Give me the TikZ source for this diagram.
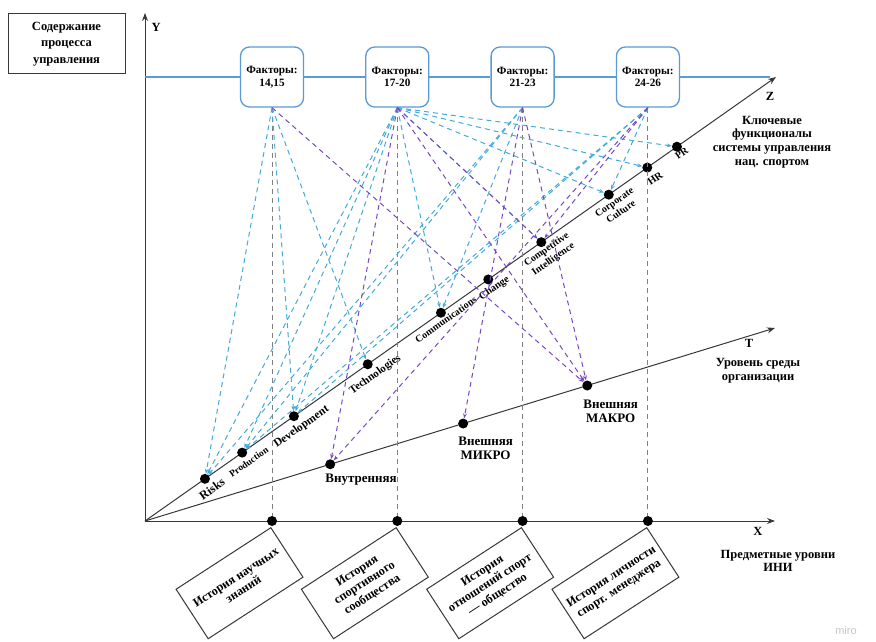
\documentclass[tikz,border=0pt]{standalone}
\usepackage{fontspec}
\setmainfont{Liberation Serif}
\newfontfamily\mirofont{Liberation Sans}
\usetikzlibrary{positioning,calc,arrows.meta}

\definecolor{factorblue}{RGB}{91,155,213}
\definecolor{linkblue}{RGB}{66,170,218}
\definecolor{linkviolet}{RGB}{120,72,196}
\definecolor{axisgray}{RGB}{55,55,55}

\tikzset{
  dot/.style={circle, fill=black, inner sep=0pt, minimum size=10pt},
  factor/.style={draw=factorblue, line width=1.3pt, rounded corners=9pt, fill=white,
    minimum width=63pt, minimum height=60pt, align=center,
    font=\bfseries\fontsize{11.2}{12.5}\selectfont},
  axis/.style={draw=axisgray, line width=1pt, -{Stealth[length=8pt,width=6pt]}},
  zlbl/.style={rotate=35.3, anchor=north, inner sep=1pt, outer sep=7pt, align=center,
    font=\bfseries\fontsize{10.5}{12}\selectfont},
  histbox/.style={draw=axisgray, line width=1pt, rotate=33, anchor=north east,
    minimum width=113pt, minimum height=59pt, align=center,
    font=\bfseries\fontsize{12.3}{14}\selectfont},
  caption/.style={align=center, font=\bfseries\fontsize{12.5}{13.6}\selectfont},
  envlbl/.style={align=center, font=\bfseries\fontsize{13}{14}\selectfont},
}

\begin{document}
\begin{tikzpicture}[x=1pt, y=-1pt]
\useasboundingbox (0,0) rectangle (876,642);

    % Axes %
    \coordinate (O) at (145,521);
    \coordinate (Yend) at (145,13);
    \coordinate (Xend) at (775,521);
    \coordinate (Zend) at (776,77);
    \coordinate (Tend) at (775,328);
    \coordinate (hstart) at (145,77);
    \coordinate (hend) at (770,77);

    \draw[axis] (O) -- (Yend);
    \draw[axis] (O) -- (Xend);
    \draw[axis] (O) -- (Zend);
    \draw[axis] (O) -- (Tend);

    \node[caption, anchor=west] (ylbl) at (148,27) {Y};
    \node[caption] (zlbl) at (770,96) {Z};
    \node[caption] (tlbl) at (749,343) {T};
    \node[caption] (xlbl) at (758,531) {X};

    \node[draw=axisgray, line width=1pt, minimum width=117pt, minimum height=60pt,
      align=center, font=\bfseries\fontsize{12.5}{16.5}\selectfont] (content) at (66.5,44)
      {Содержание\\процесса\\управления};

    % Factor boxes on the blue line %
    \node[factor] (f1) at (272,77) {Факторы:\\14,15};
    \node[factor, right=61pt of f1] (f2) {Факторы:\\17-20};
    \node[factor, right=61pt of f2] (f3) {Факторы:\\21-23};
    \node[factor, right=61pt of f3] (f4) {Факторы:\\24-26};
    \draw[factorblue, line width=1.3pt] (hstart) -- (f1) -- (f2) -- (f3) -- (f4) -- (hend);

    % Z axis: key functions %
    \node[dot] (risks) at ($(O)!0.095!(Zend)$) {};
    \node[dot] (prod) at ($(O)!0.154!(Zend)$) {};
    \node[dot] (dev) at ($(O)!0.236!(Zend)$) {};
    \node[dot] (tech) at ($(O)!0.353!(Zend)$) {};
    \node[dot] (comm) at ($(O)!0.469!(Zend)$) {};
    \node[dot] (change) at ($(O)!0.544!(Zend)$) {};
    \node[dot] (compet) at ($(O)!0.628!(Zend)$) {};
    \node[dot] (corp) at ($(O)!0.735!(Zend)$) {};
    \node[dot] (hr) at ($(O)!0.796!(Zend)$) {};
    \node[dot] (pr) at ($(O)!0.843!(Zend)$) {};

    \node[zlbl, font=\bfseries\fontsize{12}{12}\selectfont] at (risks) {Risks};
    \node[zlbl, font=\bfseries\fontsize{9.5}{10}\selectfont] at (prod) {Production};
    \node[zlbl, font=\bfseries\fontsize{11.5}{12}\selectfont] at (dev) {Development};
    \node[zlbl, font=\bfseries\fontsize{11}{12}\selectfont] at (tech) {Technologies};
    \node[zlbl, outer sep=4pt, font=\bfseries\fontsize{10}{12}\selectfont] at (comm) {Communications};
    \node[zlbl, outer sep=5pt] at (change) {Change};
    \node[zlbl, outer sep=4pt, font=\bfseries\fontsize{10}{11.5}\selectfont] at (compet) {Competitive\\Intelligence};
    \node[zlbl, outer sep=5pt, font=\bfseries\fontsize{10}{11.5}\selectfont] at (corp) {Corporate\\Culture};
    \node[zlbl, outer sep=9pt, font=\bfseries\fontsize{10.5}{12}\selectfont] at (hr) {HR};
    \node[zlbl, outer sep=4pt, font=\bfseries\fontsize{10}{12}\selectfont] at (pr) {PR};

    \node[caption] (zcap) at (772,142) {Ключевые\\функционалы\\системы управления\\нац. спортом};

    % T axis: environment levels %
    \node[dot] (inner) at ($(O)!0.294!(Tend)$) {};
    \node[dot] (micro) at ($(O)!0.505!(Tend)$) {};
    \node[dot] (macro) at ($(O)!0.702!(Tend)$) {};

    \node[envlbl, below right=3pt and -12pt of inner] {Внутренняя};
    \node[envlbl, below right=6pt and -12pt of micro] {Внешняя\\МИКРО};
    \node[envlbl, below right=7pt and -11pt of macro] {Внешняя\\МАКРО};

    \node[caption] (tcap) at (758,371) {Уровень среды\\организации};

    % X axis: subject levels %
    \node[dot] (x1) at (f1 |- O) {};
    \node[dot] (x2) at (f2 |- O) {};
    \node[dot] (x3) at (f3 |- O) {};
    \node[dot] (x4) at (f4 |- O) {};

    \node[histbox] (h1) at ($(x1)+(-1,6)$) {История научных\\знаний};
    \node[histbox] (h2) at ($(x2)+(-1,6)$) {История\\спортивного\\сообщества};
    \node[histbox] (h3) at ($(x3)+(-1,6)$) {История\\отношений спорт\\— общество};
    \node[histbox] (h4) at ($(x4)+(-1,6)$) {История личности\\спорт. менеджера};

    \node[caption] (xcap) at (778,561) {Предметные уровни\\ИНИ};

    \node[text=gray!45, font=\mirofont\fontsize{11}{12}\selectfont] (wm) at (846,631) {miro};

    % Vertical links factor -> subject level %
    \begin{scope}[every edge/.style={draw=gray, line width=0.9pt, dash pattern=on 5pt off 4pt}]
        \path (f1) edge (x1);
        \path (f2) edge (x2);
        \path (f3) edge (x3);
        \path (f4) edge (x4);
    \end{scope}

    % Factors -> key functions %
    \begin{scope}[every edge/.style={draw=linkblue, line width=1pt, dash pattern=on 5pt off 4pt}]
        \path [-{Stealth[length=5pt]}] (f1.south) edge (risks);
        \path [-{Stealth[length=5pt]}] (f1.south) edge (dev);
        \path [-{Stealth[length=5pt]}] (f1.south) edge (tech);

        \path [-{Stealth[length=5pt]}] (f2.south) edge (risks);
        \path [-{Stealth[length=5pt]}] (f2.south) edge (prod);
        \path [-{Stealth[length=5pt]}] (f2.south) edge (dev);
        \path [-{Stealth[length=5pt]}] (f2.south) edge (comm);
        \path [-{Stealth[length=5pt]}] (f2.south) edge (compet);
        \path [-{Stealth[length=5pt]}] (f2.south) edge (corp);
        \path [-{Stealth[length=5pt]}] (f2.south) edge (hr);
        \path [-{Stealth[length=5pt]}] (f2.south) edge (pr);

        \path [-{Stealth[length=5pt]}] (f3.south) edge (risks);
        \path [-{Stealth[length=5pt]}] (f3.south) edge (prod);
        \path [-{Stealth[length=5pt]}] (f3.south) edge (comm);

        \path [-{Stealth[length=5pt]}] (f4.south) edge (prod);
        \path [-{Stealth[length=5pt]}] (f4.south) edge (dev);
        \path [-{Stealth[length=5pt]}] (f4.south) edge (corp);
    \end{scope}

    % Factors -> environment levels %
    \begin{scope}[every edge/.style={draw=linkviolet, line width=1pt, dash pattern=on 5pt off 4pt}]
        \path [-{Stealth[length=5pt]}] (f1.south) edge (macro);
        \path [-{Stealth[length=5pt]}] (f2.south) edge (inner);
        \path [-{Stealth[length=5pt]}] (f2.south) edge (macro);
        \path [-{Stealth[length=5pt]}] (f2.south) edge (compet);
        \path [-{Stealth[length=5pt]}] (f3.south) edge (micro);
        \path [-{Stealth[length=5pt]}] (f3.south) edge (macro);
        \path [-{Stealth[length=5pt]}] (f4.south) edge (inner);
        \path [-{Stealth[length=5pt]}] (f4.south) edge (compet); % crosses near Change
    \end{scope}

\end{tikzpicture}
\end{document}
